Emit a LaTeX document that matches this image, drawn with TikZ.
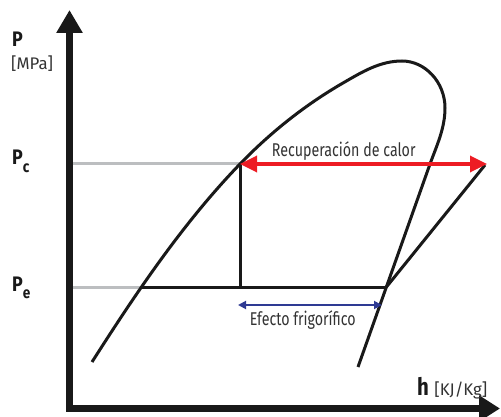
\documentclass[tikz,border=0pt]{standalone}
\usepackage{fontspec}
\setmainfont{Fira Sans}[FakeStretch=0.77]
\newfontfamily\axisfont{Fira Sans}[FakeStretch=0.85]
\newfontfamily\unitfont{Fira Sans}
\usepackage{xcolor}
\usetikzlibrary{arrows.meta, positioning, calc}
\definecolor{txtgray}{HTML}{333333}
\definecolor{guidegray}{HTML}{BCBEC0}
\definecolor{heatred}{HTML}{ED1C24}
\definecolor{coolblue}{HTML}{2E3A93}
\begin{document}
\begin{tikzpicture}[x=1pt,y=-1pt,
 every node/.style={inner sep=0pt,text=txtgray},
 axis/.style={line width=7pt,line join=miter,color=black!90,{Triangle[length=23pt,width=25pt]}-{Triangle[length=21pt,width=25pt]}},
 guide/.style={line width=3pt,guidegray},
 cyc/.style={line width=3pt,black!90},
 heat/.style={line width=3.4pt,heatred,{Triangle[length=17pt,width=16pt]}-{Triangle[length=17pt,width=16pt]}},
 cold/.style={line width=1.8pt,coolblue,{Triangle[length=8pt,width=8pt]}-{Triangle[length=8pt,width=8pt]}},
 lbl/.style={font=\fontsize{18.5}{20}\selectfont},
 axlbl/.style={font=\axisfont\bfseries\fontsize{21}{23}\selectfont,text=black!90,anchor=base west},
 unit/.style={font=\unitfont\fontsize{16.8}{18}\selectfont,anchor=base west}]
\useasboundingbox (0,0) rectangle (501,417);
% axes
\coordinate (ytip) at (69.5,10);
\coordinate (orig) at (69.5,408.5);
\coordinate (xtip) at (500,408.5);
\draw[axis] (ytip) -- (orig) -- (xtip);
% cycle corners
\coordinate (pcl) at (240,164);
\coordinate (pel) at (140,287);
\coordinate (pev) at (386.4,287);
\coordinate (pcr) at (487,164);
\coordinate (pcaxis) at (73,164);
\coordinate (peaxis) at (73,287);
\coordinate (isend) at (485,165);
\draw[guide] (pcaxis) -- (pcl);
\draw[guide] (peaxis) -- (pel);
% saturation dome
\draw[cyc] (92,362) .. controls (136,293) and (183,223) .. (pcl)
 .. controls (271,132) and (305,105) .. (343,83)
 .. controls (362,72) and (380,61) .. (402,61)
 .. controls (425,61) and (445,82) .. (445,108)
 .. controls (445,128) and (437,145) .. (430,164)
 -- (358,367);
\draw[cyc] (pel) -- (pev);
\draw[cyc] (pcl) -- (pcl |- pev);
\draw[cyc] (pev) -- (isend);
% arrows
\draw[heat] (pcl) -- (pcr);
\coordinate (efl) at (238,305);
\coordinate (efr) at (382,305);
\draw[cold] (efl) -- (efr);
\node[lbl,above=3pt of $(pcl)!0.42!(pcr)$] (rec) {Recuperación de calor};
\node[lbl,below=5pt of $(efl)!0.45!(efr)$] (efe) {Efecto frigorífico};
% labels
\node[axlbl] (plab) at (12,47) {P};
\node[unit] (punit) at (11,70) {[MPa]};
\node[axlbl] (pc) at (12,165) {P\raisebox{-8pt}{\fontsize{16}{18}\selectfont c}};
\node[axlbl] (pe) at (12,291) {P\raisebox{-7pt}{\fontsize{16}{18}\selectfont e}};
\node[axlbl,font=\axisfont\bfseries\fontsize{24}{26}\selectfont] (hlab) at (417,395) {h};
\node[unit,right=5pt of hlab.base east,anchor=base west] (hunit) {[KJ/Kg]};
\end{tikzpicture}
\end{document}
